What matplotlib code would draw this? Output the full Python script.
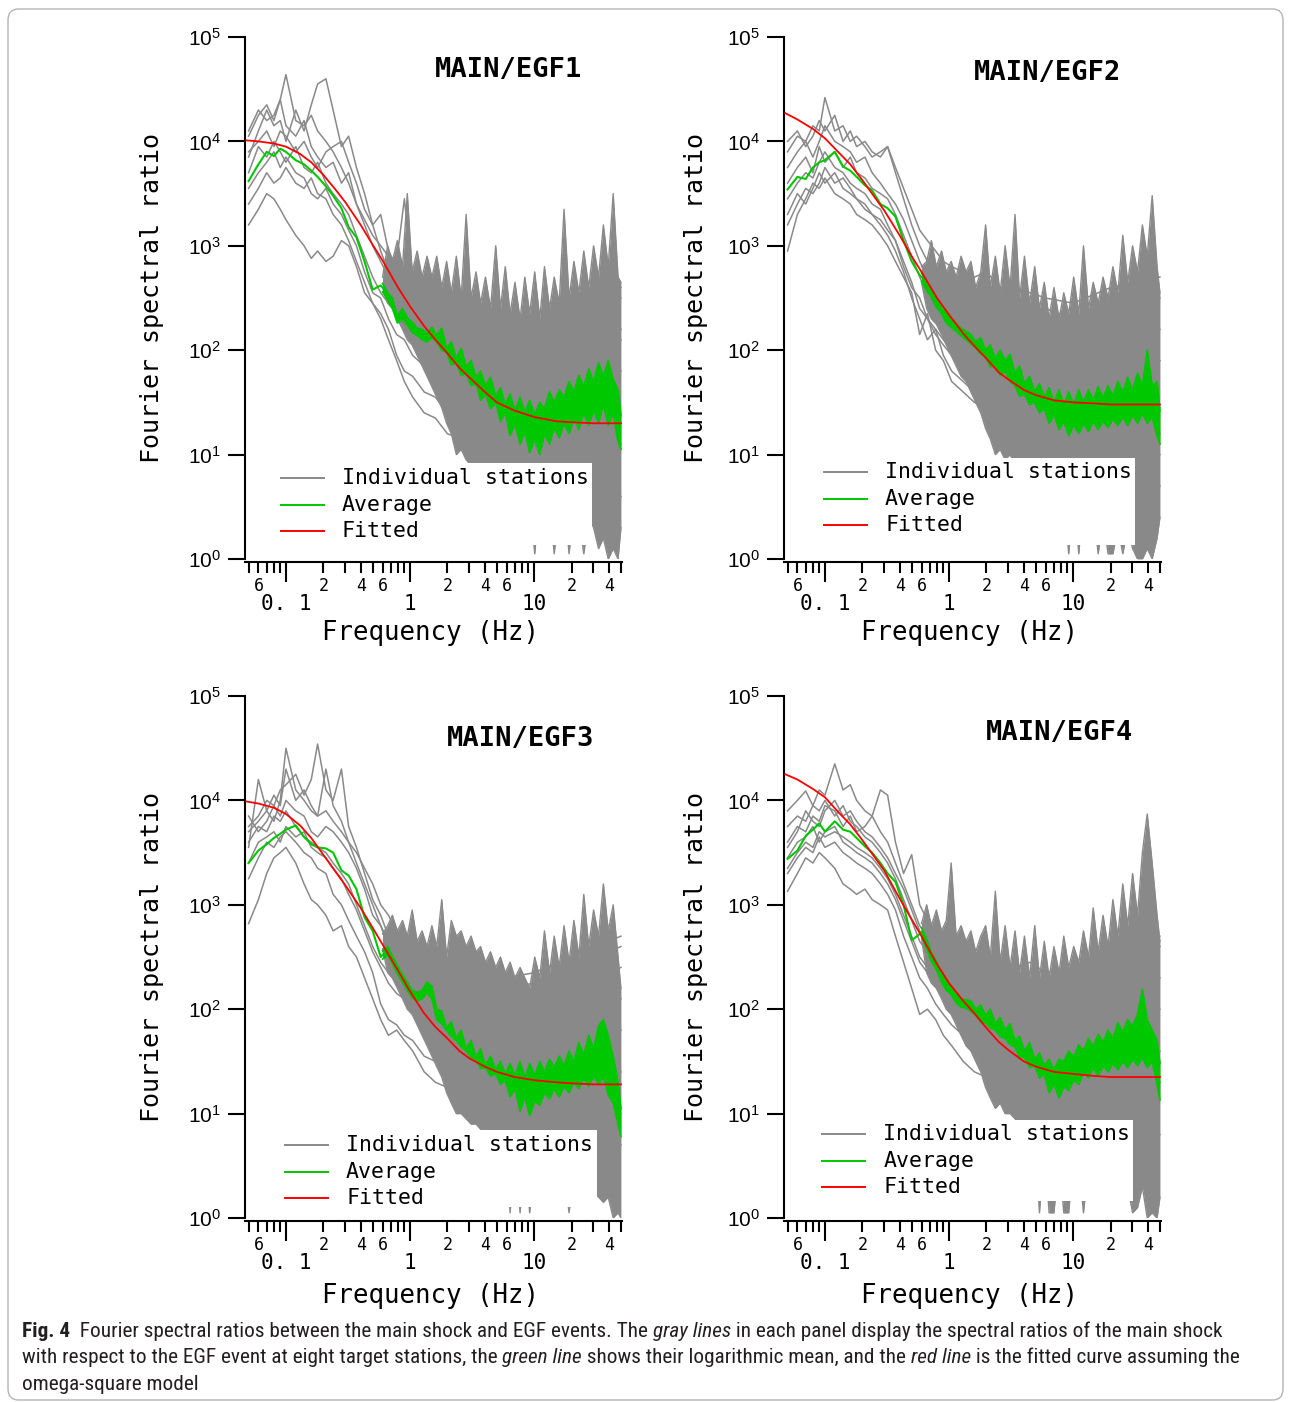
import matplotlib
matplotlib.use('Agg')
import matplotlib.pyplot as plt
import matplotlib.patches as mpatches
from matplotlib import font_manager
from matplotlib.ticker import FixedLocator, FixedFormatter, NullLocator
import numpy as np

plt.rcParams['mathtext.fontset'] = 'custom'
plt.rcParams['mathtext.rm'] = 'Liberation Sans'
plt.rcParams['mathtext.it'] = 'Liberation Sans:italic'

############# frequency grids (Hz) ###############
freq_st = [0.05, 0.06, 0.07, 0.08, 0.09, 0.10, 0.12, 0.14, 0.16, 0.18, 0.21,
           0.24, 0.28, 0.32, 0.37, 0.43, 0.50, 0.58, 0.67, 0.78, 0.90, 1.05,
           1.3, 1.6, 2.0, 2.6, 3.4, 4.5, 6.0, 10, 20, 50]
freq_hi = [0.6, 0.66, 0.72, 0.79, 0.87, 0.95, 1.04, 1.14, 1.25, 1.37,
           1.5, 1.64, 1.8, 1.97, 2.15, 2.36, 2.58, 2.83, 3.1, 3.4, 3.7, 4.05,
           4.45, 4.9, 5.35, 5.85, 6.4, 7.0, 7.7, 8.4, 9.2, 10.1, 11.1, 12.1,
           13.3, 14.5, 15.9, 17.4, 19.1, 20.9, 22.9, 25.1, 27.5, 30.1, 33.0,
           36.1, 39.5, 43.3, 47.4, 50.0]
freq_avg = freq_st[:18]
freq_fit = [0.048, 0.06, 0.08, 0.1, 0.13, 0.16, 0.2, 0.25, 0.3, 0.4, 0.5, 0.6,
            0.8, 1.0, 1.3, 1.6, 2.0, 2.5, 3.0, 4.0, 5.0, 7.0, 10, 15, 20, 30, 50]

############# MAIN/EGF1 (log10 of ratio) ###############
egf1_stations = [
    [4.05, 4.25, 4.35, 4.2, 4.4, 4.64, 4.2, 4.15, 4.25, 4.1, 4.0, 3.9, 3.75, 3.6, 3.4, 3.2, 3.0, 2.85, 2.7, 2.6, 2.5, 2.35, 2.25, 2.3, 2.1, 2.2, 2.0, 2.1, 1.9, 1.8, 2.0, 2.2],
    [3.85, 4.1, 4.3, 4.15, 4.2, 4.0, 4.3, 4.1, 4.35, 4.55, 4.6, 4.3, 3.95, 4.05, 3.75, 3.5, 3.2, 3.3, 2.95, 2.8, 2.7, 2.6, 2.45, 2.5, 2.3, 2.4, 2.2, 2.3, 2.2, 2.1, 2.3, 2.5],
    [3.2, 3.35, 3.5, 3.45, 3.35, 3.25, 3.1, 3.0, 2.88, 2.95, 2.85, 2.9, 3.05, 3.0, 2.8, 2.55, 2.45, 2.3, 2.1, 1.9, 1.7, 1.55, 1.4, 1.35, 1.2, 1.15, 1.0, 0.95, 0.9, 0.85, 0.8, 0.6],
    [3.4, 3.55, 3.7, 3.6, 3.65, 3.75, 3.6, 3.55, 3.65, 3.5, 3.45, 3.3, 3.2, 3.05, 2.85, 2.65, 2.45, 2.35, 2.2, 1.95, 1.8, 1.75, 1.6, 1.55, 1.4, 1.5, 1.3, 1.35, 1.2, 1.3, 1.2, 1.1],
    [3.7, 3.95, 3.85, 4.0, 3.9, 3.8, 3.95, 3.75, 3.7, 3.8, 3.6, 3.5, 3.4, 3.3, 3.1, 2.9, 2.7, 2.55, 2.45, 2.4, 2.2, 2.1, 2.0, 1.95, 1.8, 1.9, 1.7, 1.75, 1.6, 1.65, 1.7, 1.8],
    [4.1, 4.3, 4.2, 4.25, 4.4, 4.15, 4.05, 4.2, 3.95, 3.85, 3.75, 3.8, 3.6, 3.7, 3.4, 3.25, 3.1, 3.0, 2.9, 2.85, 3.45, 2.7, 2.55, 2.6, 2.5, 2.55, 2.4, 2.45, 2.3, 2.35, 2.5, 2.6],
    [3.55, 3.7, 3.8, 3.9, 3.75, 3.85, 3.7, 3.65, 3.5, 3.45, 3.55, 3.4, 3.3, 3.15, 3.0, 2.75, 2.55, 2.5, 2.3, 2.15, 2.1, 1.95, 1.85, 1.8, 1.7, 1.65, 1.55, 1.5, 1.45, 1.4, 1.5, 1.3],
    [3.9, 4.0, 4.1, 3.95, 4.1, 4.05, 3.9, 4.0, 3.85, 3.75, 3.9, 3.95, 4.0, 3.8, 3.6, 3.35, 3.2, 2.95, 2.75, 2.6, 2.5, 2.45, 2.35, 2.2, 2.15, 2.05, 2.0, 1.95, 1.85, 1.9, 2.0, 2.1],
]
egf1_upper = [2.7, 3.0, 2.85, 3.05, 2.8, 3.5, 2.75, 2.95, 2.7, 2.9,
              2.7, 2.9, 2.6, 2.85, 2.55, 2.9, 2.5, 3.3, 2.5, 2.75, 2.45, 2.7, 2.4, 3.0, 2.4, 2.8, 2.35, 2.65, 2.3, 2.7,
              2.35, 2.75, 2.3, 2.8, 2.4, 2.7, 2.45, 3.35, 2.5, 2.85, 2.55, 2.95, 2.6, 3.0, 2.7, 3.2, 2.8, 3.5, 2.7, 2.65]
egf1_lower = [2.6, 2.45, 2.4, 2.3, 2.2, 2.1, 2.05, 1.95, 1.85, 1.75,
              1.65, 1.55, 1.45, 1.3, 1.2, 1.0, 1.05, 0.95, 0.9, 0.85, 0.8, 0.8, 0.75, 0.8, 0.7, 0.75, 0.7, 0.7, 0.65, 0.7,
              0.6, 0.05, 0.6, 0.5, 0.55, 0.05, 0.5, 0.6, 0.05, 0.5, 0.4, 0.05, 0.4, 0.3, 0.1, 0.2, 0.0, 0.1, 0.0, 0.3]
egf1_average = [3.62, 3.78, 3.90, 3.86, 3.93, 3.90, 3.82, 3.78, 3.72, 3.66, 3.57, 3.48, 3.36, 3.18, 3.08, 2.85, 2.58, 2.62]
egf1_avg_top = [2.64, 2.55, 2.5, 2.33, 2.4, 2.31, 2.27, 2.21, 2.2, 2.16,
                2.22, 2.14, 2.21, 2.02, 2.08, 1.92, 2.02, 1.84, 1.9, 1.74, 1.8, 1.66, 1.74, 1.56, 1.64, 1.48, 1.58, 1.42, 1.55, 1.4,
                1.52, 1.38, 1.5, 1.44, 1.6, 1.5, 1.62, 1.55, 1.7, 1.6, 1.76, 1.65, 1.82, 1.7, 1.88, 1.75, 1.9, 1.72, 1.62, 1.38]
egf1_avg_bot = [2.56, 2.48, 2.4, 2.26, 2.3, 2.24, 2.17, 2.14, 2.1, 2.08,
                2.12, 2.08, 2.0, 1.98, 1.86, 1.88, 1.76, 1.78, 1.66, 1.68, 1.52, 1.58, 1.44, 1.5, 1.32, 1.4, 1.18, 1.3, 1.1, 1.22,
                1.02, 1.15, 1.0, 1.2, 1.1, 1.26, 1.16, 1.3, 1.2, 1.35, 1.24, 1.4, 1.28, 1.42, 1.3, 1.48, 1.28, 1.4, 1.12, 1.05]
egf1_fitted = [4.01, 4.00, 3.98, 3.95, 3.88, 3.80, 3.68, 3.54, 3.42, 3.20, 3.01, 2.86, 2.60, 2.42, 2.23, 2.10, 1.97, 1.83, 1.74, 1.60,
               1.50, 1.42, 1.36, 1.32, 1.31, 1.30, 1.30]

############# MAIN/EGF2 ###############
egf2_stations = [
    [3.9, 4.05, 4.0, 4.15, 4.1, 4.42, 4.1, 4.15, 4.0, 4.05, 3.95, 3.85, 3.9, 3.95, 3.7, 3.45, 3.2, 3.0, 2.85, 2.8, 2.7, 2.6, 2.65, 2.5, 2.55, 2.4, 2.5, 2.35, 2.4, 2.3, 2.4, 2.5],
    [2.95, 3.3, 3.45, 3.6, 3.55, 3.65, 3.5, 3.45, 3.4, 3.3, 3.25, 3.2, 3.1, 3.0, 2.85, 2.7, 2.55, 2.15, 2.35, 2.0, 1.9, 1.7, 1.6, 1.5, 1.45, 1.35, 1.3, 1.2, 1.15, 1.1, 1.0, 0.7],
    [3.6, 3.75, 3.85, 3.7, 3.95, 3.8, 3.9, 3.75, 3.85, 3.7, 3.65, 3.55, 3.5, 3.45, 3.3, 3.1, 2.9, 2.7, 2.55, 2.4, 2.3, 2.25, 2.1, 2.05, 1.95, 1.9, 1.85, 1.8, 1.7, 1.75, 1.8, 1.9],
    [3.3, 3.5, 3.4, 3.55, 3.7, 3.6, 3.7, 3.55, 3.5, 3.45, 3.4, 3.3, 3.25, 3.15, 3.05, 2.8, 2.6, 2.5, 2.3, 2.15, 2.05, 1.95, 1.8, 1.75, 1.6, 1.55, 1.5, 1.45, 1.4, 1.35, 1.3, 1.2],
    [4.0, 4.1, 3.95, 4.05, 4.2, 4.1, 4.25, 4.0, 4.1, 3.95, 4.0, 3.9, 3.85, 3.95, 3.75, 3.55, 3.35, 3.15, 3.05, 2.95, 2.85, 2.8, 2.75, 2.7, 2.75, 2.6, 2.6, 2.55, 2.5, 2.45, 2.6, 2.7],
    [3.45, 3.6, 3.7, 3.65, 3.8, 3.9, 3.75, 3.7, 3.6, 3.55, 3.5, 3.4, 3.35, 3.2, 3.05, 2.85, 2.65, 2.4, 2.3, 2.2, 2.1, 2.0, 1.9, 1.85, 1.75, 1.7, 1.65, 1.6, 1.55, 1.5, 1.55, 1.45],
    [3.75, 3.9, 4.0, 3.85, 4.0, 4.15, 4.0, 3.95, 3.9, 3.8, 3.85, 3.7, 3.6, 3.5, 3.4, 3.25, 3.05, 2.85, 2.7, 2.6, 2.45, 2.4, 2.3, 2.25, 2.2, 2.15, 2.1, 2.0, 1.95, 2.0, 2.05, 2.2],
    [3.2, 3.4, 3.55, 3.5, 3.6, 3.75, 3.6, 3.65, 3.55, 3.45, 3.35, 3.3, 3.2, 3.1, 2.95, 2.75, 2.5, 2.3, 2.1, 2.2, 1.95, 1.8, 1.7, 1.6, 1.5, 1.4, 1.35, 1.3, 1.25, 1.2, 1.1, 1.0],
]
egf2_upper = [2.8, 2.85, 3.05, 2.8, 2.95, 2.75, 2.85, 2.7, 2.9, 2.75,
              2.85, 2.6, 2.75, 3.2, 2.6, 2.9, 2.55, 3.0, 2.6, 3.3, 2.5, 2.9, 2.45, 2.8, 2.4, 2.65, 2.3, 2.6, 2.3, 2.55,
              2.35, 2.7, 2.35, 3.0, 2.4, 2.65, 2.45, 2.7, 2.5, 2.8, 2.55, 3.1, 2.65, 3.0, 2.75, 3.2, 2.9, 3.48, 2.8, 2.55]
egf2_lower = [2.65, 2.4, 2.3, 2.25, 2.15, 2.05, 1.95, 1.85, 1.75, 1.7,
              1.6, 1.5, 1.4, 1.25, 1.15, 1.0, 1.05, 0.95, 1.0, 0.9, 0.9, 0.85, 0.85, 0.8, 0.8, 0.75, 0.8, 0.7, 0.7, 0.65,
              0.05, 0.6, 0.05, 0.6, 0.55, 0.5, 0.05, 0.4, 0.05, 0.05, 0.3, 0.05, 0.3, 0.1, 0.0, 0.0, 0.1, 0.0, 0.2, 0.4]
egf2_average = [3.54, 3.66, 3.64, 3.75, 3.80, 3.82, 3.90, 3.76, 3.72, 3.66, 3.58, 3.53, 3.40, 3.36, 3.28, 3.05, 2.85, 2.72]
egf2_avg_top = [2.74, 2.65, 2.58, 2.5, 2.41, 2.35, 2.29, 2.26, 2.21, 2.18,
                2.15, 2.08, 2.12, 2.0, 2.05, 1.92, 2.0, 1.9, 1.96, 1.78, 1.85, 1.68, 1.75, 1.6, 1.68, 1.55, 1.64, 1.5, 1.62, 1.48,
                1.6, 1.48, 1.62, 1.5, 1.62, 1.52, 1.65, 1.54, 1.66, 1.56, 1.7, 1.6, 1.74, 1.62, 1.78, 1.66, 2.0, 1.66, 1.7, 1.42]
egf2_avg_bot = [2.66, 2.57, 2.51, 2.41, 2.35, 2.26, 2.22, 2.18, 2.14, 2.1,
                2.06, 2.02, 1.96, 1.94, 1.84, 1.86, 1.76, 1.8, 1.7, 1.66, 1.56, 1.58, 1.48, 1.5, 1.4, 1.44, 1.3, 1.38, 1.24, 1.32,
                1.18, 1.28, 1.2, 1.3, 1.22, 1.32, 1.24, 1.32, 1.26, 1.34, 1.28, 1.36, 1.28, 1.38, 1.3, 1.4, 1.3, 1.36, 1.18, 1.1]
egf2_fitted = [4.27, 4.21, 4.12, 4.03, 3.89, 3.78, 3.63, 3.47, 3.34, 3.10, 2.90, 2.75, 2.50, 2.34, 2.16, 2.04, 1.92, 1.79, 1.72, 1.62,
               1.57, 1.52, 1.50, 1.49, 1.48, 1.48, 1.48]

############# MAIN/EGF3 ###############
egf3_stations = [
    [3.55, 4.2, 3.9, 3.8, 4.0, 4.5, 4.1, 4.0, 3.9, 3.85, 4.3, 3.95, 3.8, 3.6, 3.4, 3.2, 3.0, 2.8, 2.65, 2.55, 2.45, 2.4, 2.3, 2.35, 2.25, 2.2, 2.15, 2.2, 2.1, 2.0, 2.2, 2.4],
    [3.75, 3.85, 4.0, 3.95, 4.1, 4.15, 4.25, 4.05, 4.2, 4.54, 4.1, 4.0, 4.3, 3.75, 3.55, 3.3, 3.05, 2.9, 2.7, 2.6, 2.5, 2.55, 2.4, 2.45, 2.35, 2.3, 2.25, 2.3, 2.2, 2.25, 2.4, 2.6],
    [2.82, 3.05, 3.3, 3.45, 3.5, 3.55, 3.4, 3.2, 3.05, 3.0, 2.9, 2.75, 2.8, 2.6, 2.5, 2.3, 2.1, 1.9, 1.75, 1.8, 1.7, 1.6, 1.4, 1.3, 1.25, 1.2, 1.1, 1.05, 1.0, 0.95, 0.9, 0.7],
    [3.25, 3.45, 3.6, 3.55, 3.65, 3.7, 3.6, 3.5, 3.45, 3.35, 3.3, 3.1, 3.0, 2.85, 2.7, 2.55, 2.35, 2.05, 1.9, 1.85, 1.75, 1.7, 1.55, 1.5, 1.4, 1.35, 1.3, 1.25, 1.2, 1.15, 1.1, 1.0],
    [3.6, 3.75, 3.7, 3.85, 3.8, 3.9, 3.75, 3.65, 3.6, 3.55, 3.5, 3.4, 3.3, 3.2, 3.0, 2.8, 2.6, 2.45, 2.35, 2.25, 2.15, 2.1, 2.0, 1.95, 1.85, 1.8, 1.7, 1.75, 1.65, 1.6, 1.7, 1.8],
    [3.85, 3.7, 3.8, 3.95, 3.85, 4.0, 3.9, 3.85, 3.7, 3.65, 3.75, 3.7, 3.6, 3.5, 3.35, 3.15, 2.9, 2.8, 2.6, 2.5, 2.4, 2.35, 2.25, 2.2, 2.15, 2.1, 2.05, 2.0, 1.95, 1.9, 2.0, 2.1],
    [3.4, 3.6, 3.65, 3.7, 3.6, 3.75, 3.65, 3.7, 3.55, 3.5, 3.45, 3.35, 3.25, 3.1, 2.95, 2.75, 2.55, 2.4, 2.25, 2.15, 2.1, 2.0, 1.85, 1.8, 1.75, 1.65, 1.6, 1.55, 1.5, 1.45, 1.5, 1.4],
    [3.7, 3.8, 3.9, 4.05, 3.95, 4.3, 4.0, 4.1, 3.95, 3.85, 3.9, 3.8, 3.7, 3.6, 3.5, 3.35, 3.2, 3.0, 2.9, 2.75, 2.65, 2.6, 2.5, 2.55, 2.45, 2.4, 2.35, 2.4, 2.3, 2.35, 2.5, 2.7],
]
egf3_upper = [2.72, 2.8, 2.9, 2.75, 2.85, 2.7, 2.95, 2.65, 2.75, 2.6,
              2.8, 2.6, 3.05, 2.5, 2.85, 2.7, 2.75, 2.6, 2.7, 2.55, 2.6, 2.45, 2.55, 2.4, 2.5, 2.35, 2.45, 2.3, 2.4, 2.3,
              2.2, 2.5, 2.3, 2.75, 2.35, 2.7, 2.4, 2.8, 2.45, 2.85, 2.5, 3.1, 2.6, 2.95, 2.7, 3.2, 2.75, 3.0, 2.5, 2.2]
egf3_lower = [2.58, 2.35, 2.3, 2.2, 2.1, 2.0, 1.95, 1.85, 1.75, 1.65,
              1.55, 1.45, 1.35, 1.2, 1.1, 1.0, 1.0, 0.95, 0.9, 0.9, 0.85, 0.8, 0.8, 0.75, 0.7, 0.7, 0.05, 0.65, 0.05, 0.6,
              0.05, 0.6, 0.55, 0.6, 0.55, 0.5, 0.5, 0.45, 0.05, 0.45, 0.4, 0.35, 0.3, 0.25, 0.2, 0.15, 0.2, 0.0, 0.05, 0.0]
egf3_average = [3.40, 3.52, 3.58, 3.64, 3.68, 3.72, 3.76, 3.65, 3.58, 3.55, 3.54, 3.50, 3.33, 3.28, 3.15, 2.88, 2.75, 2.50]
egf3_avg_top = [2.56, 2.6, 2.51, 2.42, 2.33, 2.26, 2.18, 2.16, 2.18, 2.26,
                2.22, 2.0, 1.98, 1.82, 1.88, 1.72, 1.8, 1.62, 1.7, 1.54, 1.62, 1.46, 1.55, 1.42, 1.5, 1.38, 1.48, 1.36, 1.5, 1.34,
                1.48, 1.36, 1.5, 1.4, 1.52, 1.44, 1.55, 1.46, 1.6, 1.5, 1.68, 1.56, 1.75, 1.62, 1.84, 1.9, 1.75, 1.55, 1.3, 1.05]
egf3_avg_bot = [2.48, 2.52, 2.44, 2.34, 2.26, 2.18, 2.11, 2.08, 2.1, 2.16,
                2.1, 1.9, 1.86, 1.8, 1.74, 1.7, 1.64, 1.6, 1.54, 1.52, 1.43, 1.44, 1.36, 1.38, 1.28, 1.32, 1.16, 1.24, 1.02, 1.16,
                0.98, 1.12, 1.08, 1.2, 1.14, 1.24, 1.16, 1.26, 1.2, 1.3, 1.24, 1.34, 1.26, 1.36, 1.28, 1.36, 1.18, 1.1, 0.9, 0.78]
egf3_fitted = [3.99, 3.97, 3.93, 3.87, 3.76, 3.64, 3.48, 3.32, 3.19, 2.97, 2.78, 2.62, 2.37, 2.17, 1.96, 1.83, 1.72, 1.60, 1.53, 1.45,
               1.40, 1.35, 1.32, 1.30, 1.29, 1.28, 1.28]

############# MAIN/EGF4 ###############
egf4_stations = [
    [3.9, 4.0, 4.09, 3.95, 4.1, 4.05, 4.35, 4.1, 4.15, 4.0, 3.9, 3.85, 3.7, 3.6, 3.4, 3.2, 3.0, 2.8, 2.7, 2.6, 2.55, 2.5, 2.4, 2.45, 2.35, 2.4, 2.3, 2.35, 2.25, 2.3, 2.4, 2.6],
    [3.6, 3.75, 3.7, 3.85, 3.8, 3.95, 3.9, 3.75, 3.85, 3.7, 3.75, 3.85, 4.1, 4.05, 3.6, 3.3, 3.48, 3.0, 2.85, 2.75, 2.7, 2.6, 2.5, 2.55, 2.45, 2.5, 2.4, 2.45, 2.35, 2.4, 2.55, 2.7],
    [3.13, 3.3, 3.45, 3.4, 3.5, 3.45, 3.35, 3.2, 3.15, 3.1, 3.15, 3.05, 3.0, 2.95, 2.7, 2.45, 2.2, 1.95, 2.0, 1.9, 1.75, 1.65, 1.5, 1.4, 1.35, 1.3, 1.2, 1.15, 1.1, 1.05, 0.95, 0.8],
    [3.3, 3.45, 3.55, 3.5, 3.65, 3.55, 3.6, 3.5, 3.45, 3.4, 3.35, 3.3, 3.2, 3.1, 2.95, 2.7, 2.5, 2.3, 2.2, 2.05, 1.95, 1.85, 1.75, 1.7, 1.6, 1.55, 1.5, 1.45, 1.4, 1.35, 1.4, 1.3],
    [3.75, 3.85, 3.8, 3.95, 3.9, 4.0, 3.85, 3.95, 3.8, 3.75, 3.65, 3.6, 3.5, 3.4, 3.25, 3.05, 2.85, 2.65, 2.55, 2.45, 2.35, 2.3, 2.2, 2.15, 2.05, 2.0, 1.95, 1.9, 1.85, 1.8, 1.9, 2.0],
    [3.45, 3.6, 3.65, 3.75, 3.6, 3.7, 3.75, 3.6, 3.55, 3.5, 3.45, 3.4, 3.3, 3.2, 3.05, 2.85, 2.65, 2.45, 2.35, 2.3, 2.2, 2.15, 2.05, 2.0, 1.9, 1.85, 1.8, 1.75, 1.7, 1.65, 1.7, 1.6],
    [3.55, 3.7, 3.9, 3.8, 3.75, 3.9, 4.0, 3.85, 3.9, 3.8, 3.7, 3.65, 3.55, 3.45, 3.3, 3.15, 2.95, 2.75, 2.65, 2.55, 2.5, 2.4, 2.35, 2.3, 2.25, 2.2, 2.15, 2.1, 2.05, 2.1, 2.2, 2.3],
    [3.35, 3.5, 3.6, 3.55, 3.7, 3.65, 3.7, 3.65, 3.6, 3.55, 3.5, 3.45, 3.35, 3.25, 3.1, 2.9, 2.7, 2.5, 2.4, 2.3, 2.15, 2.05, 1.95, 1.9, 1.8, 1.75, 1.7, 1.65, 1.6, 1.55, 1.6, 1.5],
]
egf4_upper = [2.82, 3.0, 2.8, 2.95, 2.75, 2.85, 3.4, 2.7, 2.8, 2.65,
              2.75, 2.55, 2.7, 2.8, 2.5, 3.13, 2.45, 2.8, 2.4, 2.75, 2.35, 2.7, 2.3, 2.8, 2.3, 2.65, 2.3, 2.6, 2.35, 2.7,
              2.4, 2.6, 2.45, 2.75, 2.5, 2.97, 2.55, 2.9, 2.6, 3.05, 2.7, 3.2, 2.8, 3.3, 2.9, 3.5, 3.87, 3.4, 2.9, 2.65]
egf4_lower = [2.68, 2.35, 2.25, 2.2, 2.1, 2.0, 1.95, 1.85, 1.75, 1.65,
              1.6, 1.5, 1.4, 1.25, 1.15, 1.05, 1.1, 1.0, 1.0, 0.95, 0.9, 0.85, 0.9, 0.8, 0.05, 0.7, 0.05, 0.05, 0.6, 0.05,
              0.05, 0.6, 0.55, 0.05, 0.5, 0.55, 0.5, 0.45, 0.5, 0.4, 0.45, 0.4, 0.3, 0.05, 0.1, 0.3, 0.0, 0.05, 0.0, 0.2]
egf4_average = [3.44, 3.52, 3.66, 3.72, 3.78, 3.70, 3.80, 3.72, 3.70, 3.64, 3.56, 3.50, 3.40, 3.30, 3.22, 3.00, 2.66, 2.72]
egf4_avg_top = [2.78, 2.67, 2.54, 2.46, 2.35, 2.26, 2.22, 2.14, 2.1, 2.09,
                2.08, 2.0, 2.04, 1.94, 2.0, 1.86, 1.92, 1.8, 1.86, 1.7, 1.74, 1.6, 1.68, 1.52, 1.58, 1.46, 1.52, 1.42, 1.52, 1.5,
                1.6, 1.54, 1.66, 1.6, 1.72, 1.64, 1.76, 1.68, 1.8, 1.72, 1.87, 1.78, 1.9, 1.84, 1.95, 2.19, 1.9, 1.8, 1.7, 1.48]
egf4_avg_bot = [2.7, 2.58, 2.46, 2.38, 2.26, 2.18, 2.14, 2.06, 2.02, 2.01,
                1.98, 1.94, 1.88, 1.87, 1.82, 1.8, 1.74, 1.72, 1.66, 1.64, 1.54, 1.54, 1.44, 1.46, 1.34, 1.38, 1.2, 1.28, 1.15, 1.26,
                1.22, 1.32, 1.28, 1.4, 1.34, 1.44, 1.36, 1.46, 1.4, 1.48, 1.42, 1.5, 1.44, 1.52, 1.46, 1.54, 1.44, 1.5, 1.28, 1.13]
egf4_fitted = [4.25, 4.20, 4.11, 4.03, 3.88, 3.77, 3.62, 3.46, 3.33, 3.06, 2.86, 2.70, 2.43, 2.25, 2.08, 1.96, 1.82, 1.69, 1.61, 1.50,
               1.45, 1.40, 1.38, 1.36, 1.35, 1.35, 1.35]

titles = ['MAIN/EGF1', 'MAIN/EGF2', 'MAIN/EGF3', 'MAIN/EGF4']
legend_labels = ['Individual stations', 'Average', 'Fitted']

major_ticks = [0.1, 1, 10]
major_labels = ['0. 1', '1', '10']
minor_ticks = [0.05, 0.06, 0.07, 0.08, 0.09, 0.2, 0.3, 0.4, 0.5, 0.6, 0.7, 0.8, 0.9,
               2, 3, 4, 5, 6, 7, 8, 9, 20, 30, 40, 50]
minor_labels = ['', '6', '', '', '', '2', '', '4', '', '6', '', '', '',
                '2', '', '4', '', '6', '', '', '', '2', '', '4', '']
y_ticks = [1, 10, 100, 1e3, 1e4, 1e5]
y_labels = [r'$10^{0}$', r'$10^{1}$', r'$10^{2}$', r'$10^{3}$', r'$10^{4}$', r'$10^{5}$']

############# colours ###############
GRAY = '#898989'
GREEN = '#00c800'
RED = '#ff0000'
MONO = ['DejaVu Sans Mono', 'Liberation Mono']

############# figure ###############
W, H = 1292, 1402
fig = plt.figure(figsize=(W / 100, H / 100), dpi=100)

# rounded frame around the figure
frame = mpatches.FancyBboxPatch((8 / W, 2 / H), (W - 17) / W, (H - 11) / H,
                                boxstyle='round,pad=0,rounding_size=0.008',
                                transform=fig.transFigure, fill=False,
                                edgecolor='#b4b4b4', linewidth=1.0)
fig.patches.append(frame)

##### panel layout (pixels: left, top of 1e5, right, bottom of 1e0) #####
boxes = [(245, 37, 622, 559), (784, 37, 1161, 559),
         (245, 696, 622, 1218), (784, 696, 1161, 1218)]
title_pos = [(0.698, 0.937), (0.699, 0.931), (0.731, 0.918), (0.731, 0.929)]
legend_geo = [  # box x0, x1, y0, y1, line x0, x1, text x, row ys
    (0.080, 0.920, 0.027, 0.184, 0.093, 0.212, 0.257, (0.155, 0.103, 0.054)),
    (0.092, 0.931, 0.027, 0.193, 0.103, 0.223, 0.268, (0.167, 0.115, 0.065)),
    (0.092, 0.934, 0.022, 0.169, 0.103, 0.223, 0.268, (0.140, 0.088, 0.038)),
    (0.088, 0.926, 0.033, 0.188, 0.098, 0.218, 0.263, (0.161, 0.109, 0.059)),
]
ylabel_x = [-0.247, -0.233, -0.247, -0.233]
xlabel_y = [-0.142, -0.142, -0.149, -0.149]

panels = [
    (egf1_stations, egf1_upper, egf1_lower, egf1_average, egf1_avg_top, egf1_avg_bot, egf1_fitted),
    (egf2_stations, egf2_upper, egf2_lower, egf2_average, egf2_avg_top, egf2_avg_bot, egf2_fitted),
    (egf3_stations, egf3_upper, egf3_lower, egf3_average, egf3_avg_top, egf3_avg_bot, egf3_fitted),
    (egf4_stations, egf4_upper, egf4_lower, egf4_average, egf4_avg_top, egf4_avg_bot, egf4_fitted),
]

for i, (stations, upper, lower, average, avg_top, avg_bot, fitted) in enumerate(panels):
    l, t, r, b = boxes[i]
    ax = fig.add_axes([l / W, 1 - b / H, (r - l) / W, (b - t) / H])

    ##### individual stations #####
    for st in stations:
        assert len(st) == len(freq_st)
        ax.plot(freq_st, 10 ** np.array(st), color=GRAY, lw=1.1, zorder=2)
    ##### dense part of the station bundle (above ~0.6 Hz) #####
    assert len(upper) == len(freq_hi) and len(lower) == len(freq_hi)
    ax.fill_between(freq_hi, 10 ** np.array(lower), 10 ** np.array(upper),
                    color=GRAY, lw=0, zorder=2)
    ax.plot(freq_hi, 10 ** np.array(upper), color=GRAY, lw=1.0, zorder=2)
    ax.plot(freq_hi, 10 ** np.array(lower), color=GRAY, lw=1.0, zorder=2)

    ##### average: line at low frequency, noisy band above ~0.6 Hz #####
    assert len(average) == len(freq_avg) and len(fitted) == len(freq_fit)
    assert len(avg_top) == len(freq_hi) and len(avg_bot) == len(freq_hi)
    ax.plot(freq_avg + freq_hi[:1], 10 ** np.array(average + [(avg_top[0] + avg_bot[0]) / 2]),
            color=GREEN, lw=1.5, zorder=3)
    ax.fill_between(freq_hi, 10 ** np.array(avg_bot), 10 ** np.array(avg_top),
                    color=GREEN, lw=0, zorder=3)
    ax.plot(freq_hi, 10 ** np.array(avg_top), color=GREEN, lw=1.2, zorder=3)
    ax.plot(freq_hi, 10 ** np.array(avg_bot), color=GREEN, lw=1.2, zorder=3)

    ##### omega-square fit #####
    ax.plot(freq_fit, 10 ** np.array(fitted), color=RED, lw=1.3, zorder=4)

    ax.set_xscale('log')
    ax.set_yscale('log')
    ax.set_xlim(0.0468, 51)
    ax.set_ylim(1, 1e5)

    ##### axes style #####
    for s in ['top', 'right']:
        ax.spines[s].set_visible(False)
    ax.spines['left'].set_linewidth(1.5)
    ax.spines['bottom'].set_linewidth(1.5)
    ax.spines['bottom'].set_position(('outward', 1.8))

    ax.xaxis.set_major_locator(FixedLocator(major_ticks))
    ax.xaxis.set_major_formatter(FixedFormatter(major_labels))
    ax.xaxis.set_minor_locator(FixedLocator(minor_ticks))
    ax.xaxis.set_minor_formatter(FixedFormatter(minor_labels))
    ax.yaxis.set_major_locator(FixedLocator(y_ticks))
    ax.yaxis.set_major_formatter(FixedFormatter(y_labels))
    ax.yaxis.set_minor_locator(NullLocator())

    ax.tick_params(axis='x', which='major', direction='out', length=14.5, width=1.5,
                   pad=9, labelsize=15)
    ax.tick_params(axis='x', which='minor', direction='out', length=8, width=1.5,
                   pad=3, labelsize=12)
    ax.tick_params(axis='y', which='major', direction='out', length=12.5, width=1.5,
                   pad=5, labelsize=15)
    for lab in ax.get_xticklabels(which='both'):
        lab.set_family(MONO)

    ax.set_xlabel('Frequency (Hz)', family=MONO, fontsize=18.5, va='center')
    ax.xaxis.set_label_coords(0.493, xlabel_y[i])
    ax.set_ylabel('Fourier spectral ratio', family=MONO, fontsize=18, va='center')
    ax.yaxis.set_label_coords(ylabel_x[i], 0.5)

    ##### panel title #####
    tx, ty = title_pos[i]
    ax.text(tx, ty, titles[i], transform=ax.transAxes, family=MONO, fontsize=19.5,
            weight='bold', ha='center', va='center', zorder=6)

    ##### legend (opaque white box, no frame) #####
    bx0, bx1, by0, by1, lx0, lx1, txx, rows = legend_geo[i]
    ax.add_patch(mpatches.Rectangle((bx0, by0), bx1 - bx0, by1 - by0,
                                    transform=ax.transAxes, facecolor='white',
                                    edgecolor='none', zorder=5))
    for lab, col, ry in zip(legend_labels, [GRAY, GREEN, RED], rows):
        ax.plot([lx0, lx1], [ry, ry], transform=ax.transAxes, color=col, lw=1.4,
                zorder=6, solid_capstyle='butt')
        ax.text(txx, ry, lab, transform=ax.transAxes, family=MONO, fontsize=15.5,
                ha='left', va='center', zorder=6)

############# caption ###############
ttf = font_manager.fontManager.ttflist
names = {f.name for f in ttf}
cap_family, cap_stretch = 'Liberation Sans', 'normal'
for cand in ['Liberation Sans Narrow', 'Roboto Condensed', 'Open Sans Condensed',
             'Noto Sans Condensed', 'DejaVu Sans Condensed']:
    if cand in names:
        cap_family = cand
        break
else:
    for f in ttf:
        if f.name in ('Noto Sans', 'DejaVu Sans', 'Open Sans', 'Roboto') and \
                str(f.stretch) in ('condensed', 'semi-condensed', '75', '87.5'):
            cap_family, cap_stretch = f.name, 'condensed'
            break

renderer = fig.canvas.get_renderer()

cap_lines = [
    [('Fig. 4', 'normal', 'bold'),
     ('  Fourier spectral ratios between the main shock and EGF events. The ', 'normal', 'normal'),
     ('gray lines', 'italic', 'normal'),
     (' in each panel display the spectral ratios of the main shock', 'normal', 'normal')],
    [('with respect to the EGF event at eight target stations, the ', 'normal', 'normal'),
     ('green line', 'italic', 'normal'),
     (' shows their logarithmic mean, and the ', 'normal', 'normal'),
     ('red line', 'italic', 'normal'),
     (' is the fitted curve assuming the', 'normal', 'normal')],
    [('omega-square model', 'normal', 'normal')],
]
cap_base = [1337, 1363, 1390]


def text_width(s, size, style, weight):
    # width including trailing spaces, measured with a guard character
    kw = dict(fontsize=size, family=cap_family, stretch=cap_stretch, style=style, weight=weight)
    t1 = fig.text(0, 0, s + 'x', **kw)
    t2 = fig.text(0, 0, 'x', **kw)
    w = t1.get_window_extent(renderer).width - t2.get_window_extent(renderer).width
    t1.remove()
    t2.remove()
    return w


# size the caption so the first line spans the reference width
base_size = 14
w1 = sum(text_width(s, base_size, st, wt) for s, st, wt in cap_lines[0])
cap_size = base_size * 1211 / w1

for pieces, yb in zip(cap_lines, cap_base):
    x = 22
    for s, st, wt in pieces:
        fig.text(x / W, 1 - yb / H, s, fontsize=cap_size, family=cap_family,
                 stretch=cap_stretch, style=st, weight=wt, color='#231f20',
                 ha='left', va='baseline')
        x += text_width(s, cap_size, st, wt)

fig.savefig('out.png', dpi=100)
